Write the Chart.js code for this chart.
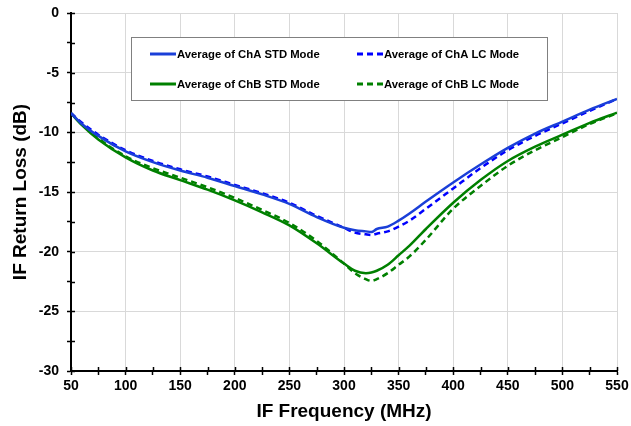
<!DOCTYPE html>
<html>
<head>
<meta charset="utf-8">
<script src="https://cdn.jsdelivr.net/npm/chart.js@4/dist/chart.umd.min.js"></script>
<style>
  html, body { margin: 0; padding: 0; background: #fff; }
  #wrap { width: 631px; height: 426px; }
</style>
</head>
<body>
<div id="wrap"><canvas id="chart" width="631" height="426"></canvas></div>
<script>
// frequency points (MHz) - denser around the dip
const freqs = [50, 60, 75, 100, 125, 150, 175, 200, 225, 250, 275, 300, 310, 320, 325, 330, 340, 350, 360, 375, 400, 425, 450, 475, 500, 525, 550];

// return loss (dB)
const chaStd = [-8.4, -9.3, -10.3, -11.6, -12.5, -13.2, -13.8, -14.5, -15.2, -16.0, -17.1, -18.0, -18.2, -18.3, -18.35, -18.1, -17.9, -17.4, -16.8, -15.8, -14.2, -12.7, -11.3, -10.1, -9.1, -8.1, -7.2];
const chaLc  = [-8.4, -9.2, -10.2, -11.5, -12.4, -13.1, -13.7, -14.4, -15.1, -15.9, -17.0, -18.0, -18.4, -18.55, -18.6, -18.5, -18.3, -17.9, -17.4, -16.4, -14.7, -13.0, -11.5, -10.3, -9.25, -8.2, -7.2];
const chbStd = [-8.4, -9.4, -10.6, -12.1, -13.2, -14.0, -14.8, -15.7, -16.7, -17.8, -19.3, -21.0, -21.6, -21.8, -21.75, -21.6, -21.1, -20.3, -19.5, -18.1, -15.9, -14.0, -12.4, -11.2, -10.2, -9.2, -8.35];
const chbLc  = [-8.4, -9.3, -10.5, -12.0, -13.0, -13.8, -14.6, -15.5, -16.5, -17.6, -19.1, -21.0, -21.8, -22.3, -22.45, -22.3, -21.8, -21.1, -20.4, -19.0, -16.4, -14.5, -12.8, -11.5, -10.4, -9.3, -8.4];

const seriesNames = ['Average of ChA STD Mode', 'Average of ChA LC Mode', 'Average of ChB STD Mode', 'Average of ChB LC Mode'];

const xTitle = 'IF Frequency (MHz)';
const yTitle = 'IF Return Loss (dB)';

function pts(vals) {
  return freqs.map((f, i) => ({ x: f, y: vals[i] }));
}

const BLUE = '#1a3fd8';
const BLUE_D = '#0000ff';
const GREEN = '#008000';
const FONT = 'Arial, "Liberation Sans", sans-serif';

// legend box inside the plot, drawn by hand
const boxLegend = {
  id: 'boxLegend',
  afterDraw(chart) {
    const ctx = chart.ctx;
    const ds = chart.data.datasets;
    ctx.save();
    ctx.fillStyle = '#fff';
    ctx.fillRect(131, 37, 416, 63);
    ctx.strokeStyle = '#808080';
    ctx.lineWidth = 1;
    ctx.strokeRect(131.5, 37.5, 416, 63);
    const cols = [150, 357];
    const rows = [54, 84];
    ctx.font = 'bold 11.3px ' + FONT;
    ctx.textBaseline = 'middle';
    ds.forEach((d, i) => {
      const x = cols[i % 2], y = rows[Math.floor(i / 2)];
      ctx.strokeStyle = d.borderColor;
      ctx.lineWidth = 3;
      ctx.setLineDash(d.borderDash || []);
      ctx.beginPath();
      ctx.moveTo(x, y);
      ctx.lineTo(x + 26, y);
      ctx.stroke();
      ctx.setLineDash([]);
      ctx.fillStyle = '#000';
      ctx.fillText(d.label, x + 27, y + 1);
    });
    ctx.restore();
  }
};

// ticks in the reference cross the axis line: add the inner half
const innerTicks = {
  id: 'innerTicks',
  afterDraw(chart) {
    const ctx = chart.ctx;
    const xs = chart.scales.x, ys = chart.scales.y;
    const a = chart.chartArea;
    ctx.save();
    ctx.strokeStyle = '#000';
    ctx.lineWidth = 1.5;
    ctx.beginPath();
    xs.ticks.forEach(t => {
      const px = Math.round(xs.getPixelForValue(t.value)) + 0.5;
      ctx.moveTo(px, a.bottom);
      ctx.lineTo(px, a.bottom - 4);
    });
    ys.ticks.forEach(t => {
      const py = Math.round(ys.getPixelForValue(t.value)) + 0.5;
      ctx.moveTo(a.left, py);
      ctx.lineTo(a.left + 4, py);
    });
    ctx.stroke();
    ctx.restore();
  }
};

function mk(label, vals, color, dash) {
  return {
    label: label,
    data: pts(vals),
    borderColor: color,
    backgroundColor: color,
    borderWidth: 2.5,
    borderDash: dash,
    pointRadius: 0,
    cubicInterpolationMode: 'monotone',
    fill: false
  };
}

new Chart(document.getElementById('chart'), {
  type: 'line',
  data: {
    datasets: [
      mk(seriesNames[0], chaStd, BLUE, []),
      mk(seriesNames[1], chaLc, BLUE_D, [6, 4]),
      mk(seriesNames[2], chbStd, GREEN, []),
      mk(seriesNames[3], chbLc, GREEN, [6, 4])
    ]
  },
  options: {
    responsive: false,
    animation: false,
    layout: { padding: { top: 13, right: 14, left: 0, bottom: 0 } },
    plugins: { legend: { display: false }, tooltip: { enabled: false } },
    scales: {
      x: {
        type: 'linear',
        min: 50, max: 550,
        border: { color: '#000', width: 2 },
        grid: {
          color: c => (c.tick && c.tick.value % 50 === 0 && c.tick.value !== 50) ? '#d9d9d9' : 'rgba(0,0,0,0)',
          tickColor: '#000',
          tickLength: 4,
          tickWidth: 1.5
        },
        ticks: {
          stepSize: 25,
          autoSkip: false,
          maxRotation: 0,
          padding: 3,
          color: '#000',
          font: { family: FONT, size: 14, weight: 'bold' },
          callback: v => (v % 50 === 0 ? v : '')
        },
        title: {
          display: true, text: xTitle, color: '#000',
          font: { family: FONT, size: 19, weight: 'bold' },
          padding: { top: 4, bottom: 3 }
        },
        afterFit: s => { s.height = 55; s.paddingLeft = 0; s.paddingRight = 0; }
      },
      y: {
        min: -30, max: 0,
        border: { color: '#000', width: 2 },
        grid: {
          color: c => (c.tick && c.tick.value % 5 === 0 && c.tick.value !== -30) ? '#d9d9d9' : 'rgba(0,0,0,0)',
          tickColor: '#000',
          tickLength: 4,
          tickWidth: 1.5
        },
        ticks: {
          stepSize: 2.5,
          autoSkip: false,
          padding: 8,
          color: '#000',
          font: { family: FONT, size: 14, weight: 'bold' },
          callback: v => (v % 5 === 0 ? v : '')
        },
        title: {
          display: true, text: yTitle, color: '#000',
          font: { family: FONT, size: 19, weight: 'bold' },
          padding: { top: 9, bottom: 0 }
        },
        afterFit: s => { s.width = 71; s.paddingTop = 0; s.paddingBottom = 0; }
      }
    }
  },
  plugins: [boxLegend, innerTicks]
});
</script>
</body>
</html>
